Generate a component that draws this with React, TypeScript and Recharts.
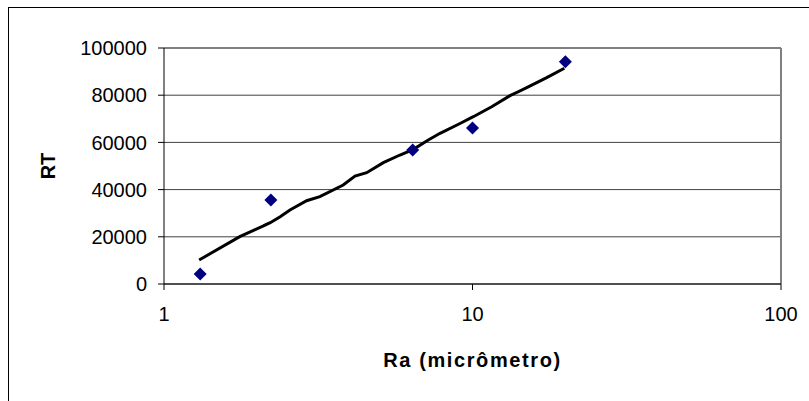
import React from "react";
import {
  ScatterChart,
  Scatter,
  XAxis,
  YAxis,
  CartesianGrid,
  ReferenceLine,
} from "recharts";

// measured points (Ra in micrometres vs RT)
const raValues = [1.31, 2.22, 6.4, 10, 20];
const rtValues = [4200, 35600, 56800, 66100, 94200];

// trend curve
const trendRa = [
  1.3, 1.76, 2.21, 2.38, 2.56, 2.9, 3.2, 3.81, 4.16, 4.54, 5.14, 5.82, 6.43,
  7.19, 7.85, 9.11, 10.06, 11.54, 13.23, 14.99, 17.4, 19.85,
];
const trendRt = [
  10170, 20040, 25970, 28520, 31360, 35300, 37000, 41950, 45760, 47160, 51400,
  54660, 57080, 61020, 63860, 68000, 70890, 75130, 79790, 83180, 87420, 91400,
];

const xTicks = [1, 10, 100];
const yTicks = [0, 20000, 40000, 60000, 80000, 100000];

const FONT = '"Liberation Sans", Arial, sans-serif';

const points = raValues.map((x, i) => ({ x, y: rtValues[i] }));
const trend = trendRa.map((x, i) => ({ x, y: trendRt[i] }));

// eslint-disable-next-line @typescript-eslint/no-explicit-any
const Diamond = (props: any) => {
  const { cx, cy } = props;
  if (cx == null || cy == null) return <g />;
  const r = 6.5;
  return (
    <polygon
      points={`${cx},${cy - r} ${cx + r},${cy} ${cx},${cy + r} ${cx - r},${cy}`}
      fill="#000080"
    />
  );
};

const NoDot = () => <g />;

// eslint-disable-next-line @typescript-eslint/no-explicit-any
const YTitle = (props: any) => {
  const vb = props.viewBox || {};
  const x = (vb.x ?? 0) + 39;
  const y = (vb.y ?? 0) + (vb.height ?? 0) / 2;
  return (
    <text
      x={x}
      y={y}
      transform={`rotate(-90, ${x}, ${y})`}
      textAnchor="middle"
      dominantBaseline="central"
      fontFamily={FONT}
      fontSize={20}
      fontWeight="bold"
      fill="#000"
    >
      RT
    </text>
  );
};

export default function App() {
  return (
    <div
      style={{
        position: "fixed",
        left: 8,
        top: 7,
        width: 801,
        height: 394,
        borderLeft: "1px solid #000",
        borderTop: "1px solid #000",
        background: "#fff",
        fontFamily: FONT,
      }}
    >
      <ScatterChart
        width={800}
        height={393}
        margin={{ top: 40, right: 28, bottom: 34, left: 0 }}
      >
        <CartesianGrid vertical={false} stroke="#404040" strokeWidth={1} />
        <XAxis
          type="number"
          dataKey="x"
          scale="log"
          domain={[1, 100]}
          ticks={xTicks}
          allowDataOverflow
          height={83}
          tickSize={6}
          tickMargin={17}
          stroke="#000"
          tick={{ fill: "#000", fontSize: 20, fontFamily: FONT }}
          label={{
            value: "Ra (micrômetro)",
            position: "insideBottom",
            offset: 0,
            style: {
              fill: "#000",
              fontSize: 20,
              fontWeight: "bold",
              fontFamily: FONT,
              letterSpacing: 1.6,
            },
          }}
        />
        <YAxis
          type="number"
          dataKey="y"
          domain={[0, 100000]}
          ticks={yTicks}
          allowDataOverflow
          width={155}
          tickSize={6}
          tickMargin={11}
          stroke="#000"
          tick={{ fill: "#000", fontSize: 20, fontFamily: FONT }}
          label={<YTitle />}
        />
        <ReferenceLine y={100000} stroke="#808080" strokeWidth={2} />
        <ReferenceLine x={100} stroke="#808080" strokeWidth={2} />
        <Scatter
          data={trend}
          shape={<NoDot />}
          line={{ stroke: "#000", strokeWidth: 3 }}
          isAnimationActive={false}
        />
        <Scatter data={points} shape={<Diamond />} isAnimationActive={false} />
      </ScatterChart>
    </div>
  );
}
